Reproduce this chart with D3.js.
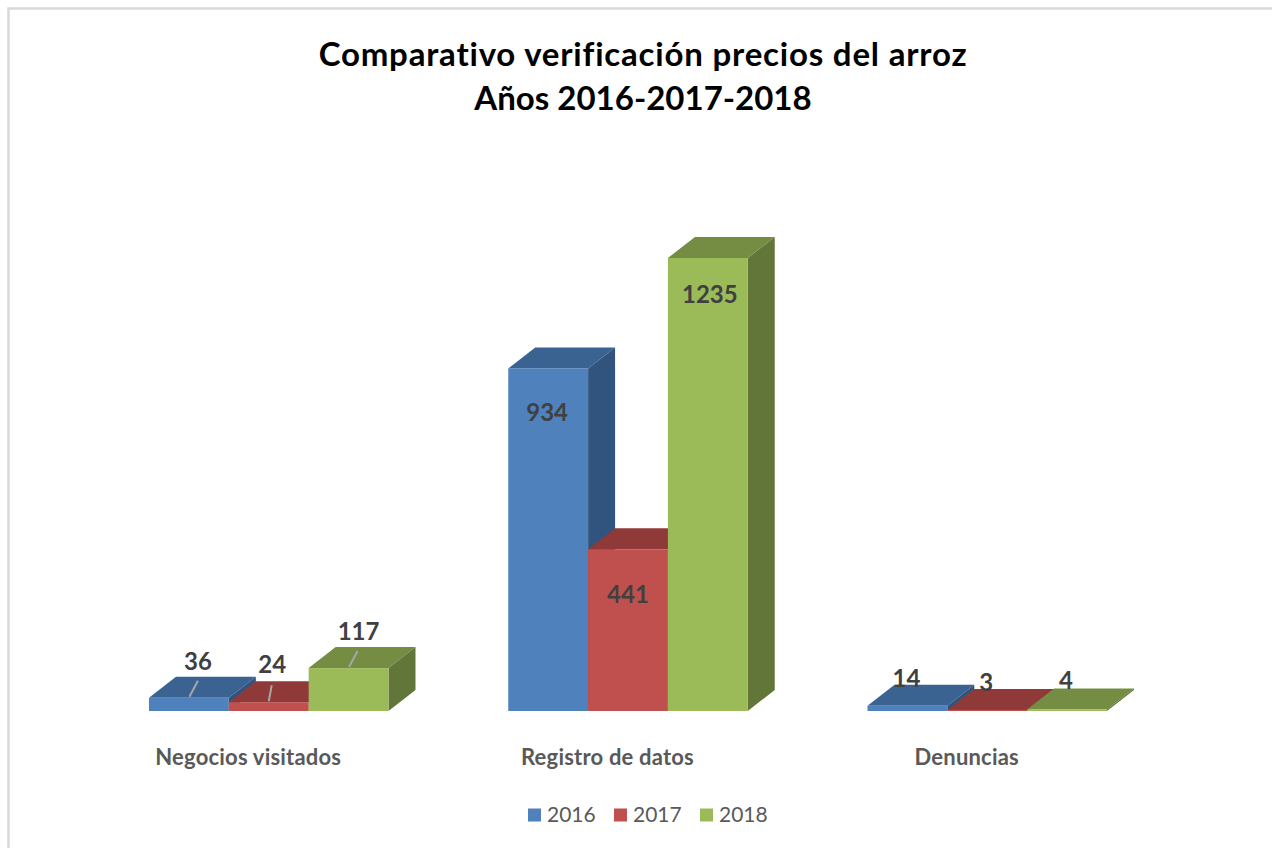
<!DOCTYPE html>
<html>
<head>
<meta charset="utf-8">
<script src="https://cdn.jsdelivr.net/npm/d3@7"></script>
<style>
    html, body { margin: 0; padding: 0; background: #fff; }
    svg { display: block; }
    text { font-family: Lato, "Open Sans", sans-serif; }
</style>
</head>
<body>
<div id="chart"></div>
<script>
const titleLines = ["Comparativo verificación precios del arroz", "Años 2016-2017-2018"];
const categories = ["Negocios visitados", "Registro de datos", "Denuncias"];
const years = ["2016", "2017", "2018"];
const values2016 = [36, 934, 14];
const values2017 = [24, 441, 3];
const values2018 = [117, 1235, 4];
const seriesValues = [values2016, values2017, values2018];

// front, top and side shade for each year
const frontColors = ["#4f81bd", "#c0504d", "#9bbb59"];
const topColors = ["#3b6391", "#8f3a38", "#748d43"];
const sideColors = ["#31547e", "#7d3331", "#62763a"];

// label offsets from the bar's top centre, [dx, dy]; by year, then category
const labelOffsets = [
    [[9, -36], [-1, 44], [-1, -27]],
    [[3.5, -38], [0, 45], [-1, -27]],
    [[10, -36], [2, 37], [-1, -29]]
];

const width = 1272, height = 848;
const baseline = 711, plotTop = 258;
const depthX = 27, depthY = -21;

const svg = d3.select("#chart").append("svg")
    .attr("width", width)
    .attr("height", height);

// Outer chart frame
svg.append("path")
    .attr("d", "M8.5," + height + "V8.5H" + width)
    .attr("fill", "none")
    .attr("stroke", "#d9d9d9")
    .attr("stroke-width", 2.5);

// Title
svg.selectAll(".title")
    .data(titleLines)
    .enter().append("text")
    .attr("class", "title")
    .attr("x", 643)
    .attr("y", (d, i) => 66 + i * 44)
    .attr("text-anchor", "middle")
    .attr("font-size", 33)
    .attr("font-weight", "bold")
    .attr("letter-spacing", (d, i) => i === 0 ? 0.8 : 0)
    .attr("fill", "#000")
    .text(d => d);

// Scales
const xScale = d3.scaleBand()
    .domain(categories)
    .range([149, 1107])
    .paddingInner(1 / 3);

const xInner = d3.scaleBand()
    .domain(years)
    .range([0, xScale.bandwidth()]);

const yScale = d3.scaleLinear()
    .domain([0, d3.max(values2018)])
    .range([baseline, plotTop]);

// Bars, left to right so each one covers the side of the previous
const bars = [];
years.forEach((year, s) => {
    categories.forEach((cat, c) => {
        bars.push({s: s, c: c, value: seriesValues[s][c], x: xScale(cat) + xInner(year), y: yScale(seriesValues[s][c])});
    });
});

const w = xInner.bandwidth();
const group = svg.selectAll(".bar")
    .data(bars)
    .enter().append("g")
    .attr("class", "bar");

group.append("path")
    .attr("fill", d => topColors[d.s])
    .attr("d", d => d3.line()([
        [d.x, d.y], [d.x + depthX, d.y + depthY], [d.x + w + depthX, d.y + depthY], [d.x + w, d.y]
    ]) + "Z");

group.append("path")
    .attr("fill", d => sideColors[d.s])
    .attr("d", d => d3.line()([
        [d.x + w, d.y], [d.x + w + depthX, d.y + depthY], [d.x + w + depthX, baseline + depthY], [d.x + w, baseline]
    ]) + "Z");

group.append("rect")
    .attr("x", d => d.x)
    .attr("y", d => d.y)
    .attr("width", w)
    .attr("height", d => baseline - d.y)
    .attr("fill", d => frontColors[d.s]);

// Leader lines for the first group, whose labels sit away from the bars
svg.selectAll(".leader")
    .data(bars.filter(d => d.c === 0))
    .enter().append("line")
    .attr("class", "leader")
    .attr("x1", d => d.x + w / 2 + (d.s === 1 ? 0 : 0.5))
    .attr("y1", d => d.y - 1)
    .attr("x2", d => d.x + w / 2 + (d.s === 1 ? 3 : 9))
    .attr("y2", d => d.y - 17)
    .attr("stroke", "#a6a6a6")
    .attr("stroke-width", 2);

// Data labels
svg.selectAll(".value")
    .data(bars)
    .enter().append("text")
    .attr("class", "value")
    .attr("x", d => d.x + w / 2 + labelOffsets[d.s][d.c][0])
    .attr("y", d => d.y + labelOffsets[d.s][d.c][1])
    .attr("dy", "0.35em")
    .attr("text-anchor", "middle")
    .attr("font-size", 24)
    .attr("font-weight", "bold")
    .attr("fill", "#404040")
    .text(d => d.value);

// Category axis, shifted left of the bars as in the 3D projection
const xAxis = d3.axisBottom(xScale).tickSize(0).tickPadding(0);
const axisGroup = svg.append("g")
    .attr("transform", "translate(-20.5,757)")
    .call(xAxis);
axisGroup.select(".domain").remove();
axisGroup.selectAll("text")
    .attr("y", 0)
    .attr("dy", "0.35em")
    .attr("font-size", 22)
    .attr("font-weight", "bold")
    .attr("font-family", "Lato, sans-serif")
    .attr("letter-spacing", 0.2)
    .attr("fill", "#595959");

// Legend
const legend = svg.selectAll(".legend")
    .data(years)
    .enter().append("g")
    .attr("class", "legend")
    .attr("transform", (d, i) => "translate(" + (528 + i * 86) + ",815)");

legend.append("rect")
    .attr("y", -6.5)
    .attr("width", 13)
    .attr("height", 13)
    .attr("fill", (d, i) => frontColors[i]);

legend.append("text")
    .attr("x", 19)
    .attr("dy", "0.35em")
    .attr("font-size", 21)
    .attr("fill", "#595959")
    .text(d => d);
</script>
</body>
</html>
